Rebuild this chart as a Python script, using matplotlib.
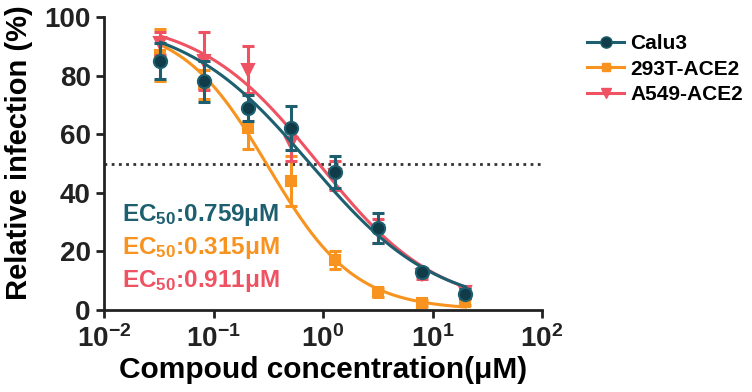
import numpy as np
import matplotlib
matplotlib.use("Agg")
import matplotlib.pyplot as plt

plt.rcParams['font.family'] = ['Liberation Sans', 'DejaVu Sans']
plt.rcParams['font.weight'] = 'bold'
plt.rcParams['mathtext.fontset'] = 'custom'
plt.rcParams['mathtext.rm'] = 'Liberation Sans:bold'
plt.rcParams['mathtext.bf'] = 'Liberation Sans:bold'
plt.rcParams['mathtext.it'] = 'Liberation Sans:bold'

# Data
conc = [0.032768, 0.08192, 0.2048, 0.512, 1.28, 3.2, 8.0, 20.0]
series_names = ['Calu3', '293T-ACE2', 'A549-ACE2']
calu3_mean = [85, 78, 69, 62, 47, 28, 13, 5.5]
calu3_err = [6, 7, 4.5, 7.5, 5.5, 5, 1.5, 1.5]
t293_mean = [87, 77, 62, 44, 17, 6, 2.5, 2.7]
t293_err = [9, 5, 7, 8.5, 3, 1.5, 1, 1]
a549_mean = [91, 85, 82, 57, 46, 27, 12, 6]
a549_err = [4, 10, 8, 6, 5, 4, 1.5, 2]

# Fitted four-parameter logistic parameters: (top, bottom, EC50, hill)
calu3_fit = (100, 0, 0.759, 0.75)
t293_fit = (98, 0, 0.315, 1.1)
a549_fit = (100, 0, 0.911, 0.8)
ec50_labels = ['0.759', '0.315', '0.911']

c_teal = '#1d5f6e'
c_teal_fill = '#0f3c48'
c_orange = '#f7931e'
c_red = '#ef5363'

fig = plt.figure(figsize=(7.52, 3.92), dpi=100)
ax = fig.add_axes([104/752, 1-310/392, (542-104)/752, (310-17)/392])

def logistic(x, p):
    top, bottom, ec50, hill = p
    return bottom + (top - bottom) / (1 + (x / ec50) ** hill)

xs = np.logspace(np.log10(conc[0]), np.log10(conc[-1]), 200)

ax.axhline(50, color='#333333', linestyle=(0, (1, 1.6)), linewidth=2, zorder=1)

specs = [
    (t293_mean, t293_err, t293_fit, c_orange, c_orange, 's', 7.5, '293T-ACE2', 2),
    (a549_mean, a549_err, a549_fit, c_red, c_red, 'v', 8, 'A549-ACE2', 3),
    (calu3_mean, calu3_err, calu3_fit, c_teal, c_teal_fill, 'o', 9.5, 'Calu3', 4),
]
handles = {}
for mean, err, fit, col, fill, mk, ms, name, z in specs:
    ax.plot(xs, logistic(xs, fit), color=col, linewidth=2.2, zorder=z)
    ax.errorbar(conc, mean, yerr=err, fmt='none', ecolor=col, elinewidth=2.2,
                capsize=4, capthick=2.2, zorder=z)
    ax.plot(conc, mean, linestyle='none', marker=mk, markersize=ms,
            markerfacecolor=fill, markeredgecolor=col, markeredgewidth=1.5, zorder=z + 0.5)
    h, = ax.plot([], [], color=col, linewidth=2.2, marker=mk, markersize=ms * 0.85,
                 markerfacecolor=fill, markeredgecolor=col)
    handles[name] = h

ax.set_xscale('log')
ax.set_xlim(0.01, 100)
ax.set_ylim(0, 100)
ax.set_xticks([0.01, 0.1, 1, 10, 100])
ax.set_xticklabels([r'10$^{-2}$', r'10$^{-1}$', r'10$^{0}$', r'10$^{1}$', r'10$^{2}$'])
ax.xaxis.set_minor_locator(matplotlib.ticker.NullLocator())
ax.set_yticks([0, 20, 40, 60, 80, 100])
ax.tick_params(axis='both', labelsize=20, width=2, length=6, direction='out', colors='#222222')
ax.tick_params(axis='x', pad=5)
for lab in ax.get_xticklabels() + ax.get_yticklabels():
    lab.set_fontweight('bold')
for s in ['top', 'right']:
    ax.spines[s].set_visible(False)
for s in ['left', 'bottom']:
    ax.spines[s].set_linewidth(2)
    ax.spines[s].set_color('#222222')

ax.set_xlabel('Compoud concentration(μM)', fontsize=21.5, fontweight='bold', labelpad=2)
ax.set_ylabel('Relative infection (%)', fontsize=21, fontweight='bold')
ax.yaxis.set_label_coords(-0.162, 0.5375)

for i, (lab, col) in enumerate(zip(ec50_labels, [c_teal, c_orange, c_red])):
    ax.text(122/752, 1 - (215 + i * 33)/392, r'EC$_{50}$:' + lab + 'μM', transform=fig.transFigure,
            color=col, fontsize=17.5, fontweight='bold', va='center', ha='left')

fig.legend([handles[n] for n in series_names], series_names, loc='upper left',
           bbox_to_anchor=(579/752, 1 - 26/392), frameon=False,
           handlelength=1.75, handletextpad=0.3, labelspacing=0.3, borderaxespad=0,
           prop={'weight': 'bold', 'size': 15})

fig.savefig('out.png', dpi=100)
